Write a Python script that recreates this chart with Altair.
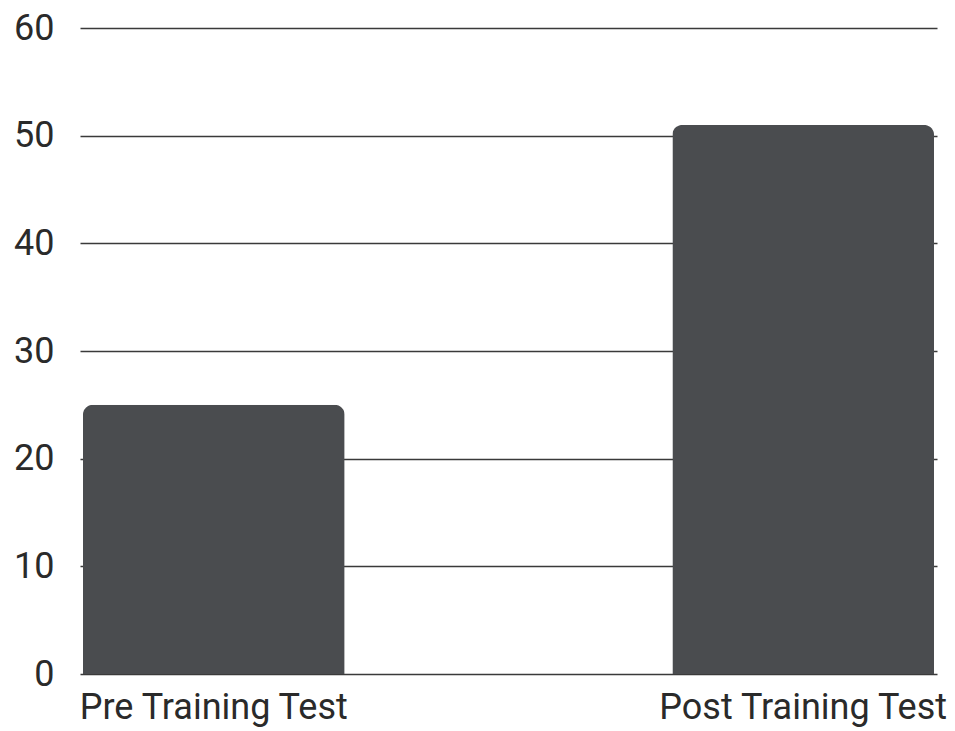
import altair as alt
import pandas as pd

categories = ["Pre Training Test", "Post Training Test"]
scores = [25, 51]
y_ticks = [0, 10, 20, 30, 40, 50, 60]

df = pd.DataFrame({"test": categories, "score": scores})

chart = alt.Chart(df).mark_bar(
    color="#4a4c4f",
    cornerRadiusTopLeft=10,
    cornerRadiusTopRight=10,
).encode(
    x=alt.X("test:N", sort=categories, title=None,
            scale=alt.Scale(paddingInner=0.556, paddingOuter=0.005),
            axis=alt.Axis(labelAngle=0, labelFont="Roboto", labelFontSize=36,
                          labelColor="#2a2a2a", ticks=False, domain=False,
                          labelPadding=16, grid=False, labelLimit=0)),
    y=alt.Y("score:Q", title=None,
            scale=alt.Scale(domain=[0, 60], nice=False),
            axis=alt.Axis(values=y_ticks, labelFont="Roboto", labelFontSize=36,
                          labelColor="#2a2a2a", ticks=False, domain=False,
                          labelPadding=26, grid=True, gridColor="#3a3a3a",
                          gridWidth=1.5)),
).properties(
    width=857,
    height=646,
    background="white",
    autosize=alt.AutoSizeParams(type="none"),
    padding={"left": 72, "top": 20, "right": 10, "bottom": 60},
).configure_view(strokeWidth=0, stroke="transparent")

chart.save("out.html", embed_options={"renderer": "svg", "actions": False})
